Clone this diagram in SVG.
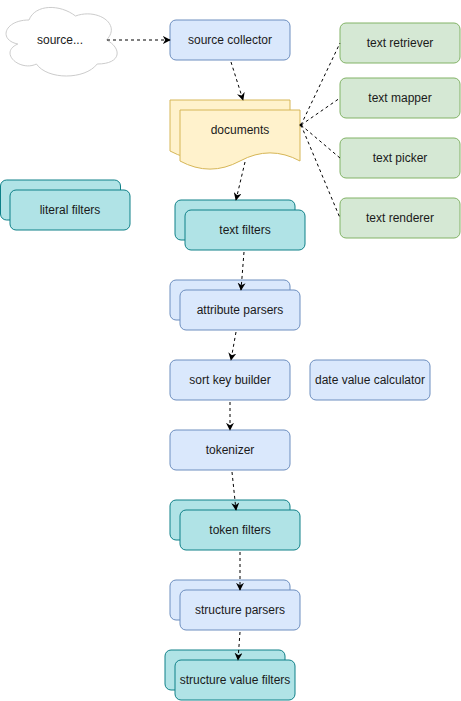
<svg xmlns="http://www.w3.org/2000/svg" width="461" height="701" viewBox="0 0 461 701">
<defs>
<style>
.blue{fill:#dae8fc;stroke:#6c8ebf;stroke-width:1}
.green{fill:#d5e8d4;stroke:#82b366;stroke-width:1}
.teal{fill:#b0e3e6;stroke:#0e8088;stroke-width:1}
.yellow{fill:#fff2cc;stroke:#d6b656;stroke-width:1}
.cloud{fill:#ffffff;stroke:#cccccc;stroke-width:1}
text{font-family:"Liberation Sans",Arial,Helvetica,sans-serif;font-size:12px;fill:#1a1a1a;text-anchor:middle;dominant-baseline:central}
.edge{fill:none;stroke:#000;stroke-width:1;stroke-dasharray:3 3}
</style>
<marker id="arr" viewBox="0 0 10 10" refX="9" refY="5" markerWidth="8" markerHeight="8" markerUnits="userSpaceOnUse" orient="auto">
<path d="M0,0 L10,5 L0,10 L3,5 Z" fill="#000"/>
</marker>
<marker id="dot" viewBox="0 0 4 4" refX="2" refY="2" markerWidth="3" markerHeight="3" markerUnits="userSpaceOnUse">
<circle cx="2" cy="2" r="2" fill="#000"/>
</marker>
</defs>
<rect width="461" height="701" fill="#ffffff"/>

<g id="source">
<path class="cloud" d="M29,20 C4.2,20 -2,40 17.8,44 C-2,52.8 20.3,72 36.4,64 C47.6,80 84.8,80 97.2,64 C122,64 122,48 106.5,40 C122,24 97.2,8 75.5,16 C60,4 35.2,4 29,20 Z"/>
<text x="60" y="40">source...</text>
</g>

<g id="source-collector">
<rect class="blue" x="170" y="20" width="120" height="40" rx="6"/>
<text x="230" y="40">source collector</text>
</g>

<g id="documents">
<path class="yellow" d="M170,100 L290,100 L290,151 Q260,134.8 230,151 Q200,167.2 170,151 Z"/>
<path class="yellow" d="M180,110 L300,110 L300,161 Q270,144.8 240,161 Q210,177.2 180,161 Z"/>
<text x="240" y="130">documents</text>
</g>

<g id="text-retriever">
<rect class="green" x="340" y="23" width="120" height="40" rx="6"/>
<text x="400" y="43">text retriever</text>
</g>
<g id="text-mapper">
<rect class="green" x="340" y="78" width="120" height="40" rx="6"/>
<text x="400" y="98">text mapper</text>
</g>
<g id="text-picker">
<rect class="green" x="340" y="138" width="120" height="40" rx="6"/>
<text x="400" y="158">text picker</text>
</g>
<g id="text-renderer">
<rect class="green" x="340" y="198" width="120" height="40" rx="6"/>
<text x="400" y="218">text renderer</text>
</g>

<g id="literal-filters">
<rect class="teal" x="0.5" y="180" width="120" height="40" rx="6"/>
<rect class="teal" x="10" y="190" width="120" height="40" rx="6"/>
<text x="70" y="210">literal filters</text>
</g>

<g id="text-filters">
<rect class="teal" x="175" y="200" width="120" height="40" rx="6"/>
<rect class="teal" x="185" y="210" width="120" height="40" rx="6"/>
<text x="245" y="230">text filters</text>
</g>

<g id="attribute-parsers">
<rect class="blue" x="170" y="280" width="120" height="40" rx="6"/>
<rect class="blue" x="180" y="290" width="120" height="40" rx="6"/>
<text x="240" y="310">attribute parsers</text>
</g>

<g id="sort-key-builder">
<rect class="blue" x="170" y="360" width="120" height="40" rx="6"/>
<text x="230" y="380">sort key builder</text>
</g>

<g id="date-value-calculator">
<rect class="blue" x="310" y="360" width="120" height="40" rx="6"/>
<text x="370" y="380">date value calculator</text>
</g>

<g id="tokenizer">
<rect class="blue" x="170" y="430" width="120" height="40" rx="6"/>
<text x="230" y="450">tokenizer</text>
</g>

<g id="token-filters">
<rect class="teal" x="170" y="500" width="120" height="40" rx="6"/>
<rect class="teal" x="180" y="510" width="120" height="40" rx="6"/>
<text x="240" y="530">token filters</text>
</g>

<g id="structure-parsers">
<rect class="blue" x="170" y="580" width="120" height="40" rx="6"/>
<rect class="blue" x="180" y="590" width="120" height="40" rx="6"/>
<text x="240" y="610">structure parsers</text>
</g>

<g id="structure-value-filters">
<rect class="teal" x="165" y="650" width="120" height="40" rx="6"/>
<rect class="teal" x="175" y="660" width="120" height="40" rx="6"/>
<text x="235" y="680">structure value filters</text>
</g>

<g id="connectors">
<path class="edge" marker-end="url(#arr)" d="M107,40 L170,40"/>
<path class="edge" marker-end="url(#arr)" d="M231,62 L243,100"/>
<path class="edge" d="M301,125 L340,43"/>
<path class="edge" d="M301,125 L340,98"/>
<path class="edge" d="M301,125 L340,158"/>
<path class="edge" d="M301,125 L340,218"/>
<circle cx="301" cy="125" r="1.5" fill="#000"/>
<path class="edge" marker-end="url(#arr)" d="M245,162 L236,200"/>
<path class="edge" marker-end="url(#arr)" d="M244,252 L241,290"/>
<path class="edge" marker-end="url(#arr)" d="M236,332 L231,360"/>
<path class="edge" marker-end="url(#arr)" d="M230,402 L230,430"/>
<path class="edge" marker-end="url(#arr)" d="M232,472 L236,510"/>
<path class="edge" marker-end="url(#arr)" d="M240,552 L240,590"/>
<path class="edge" marker-end="url(#arr)" d="M240,632 L238,660"/>
</g>
</svg>
